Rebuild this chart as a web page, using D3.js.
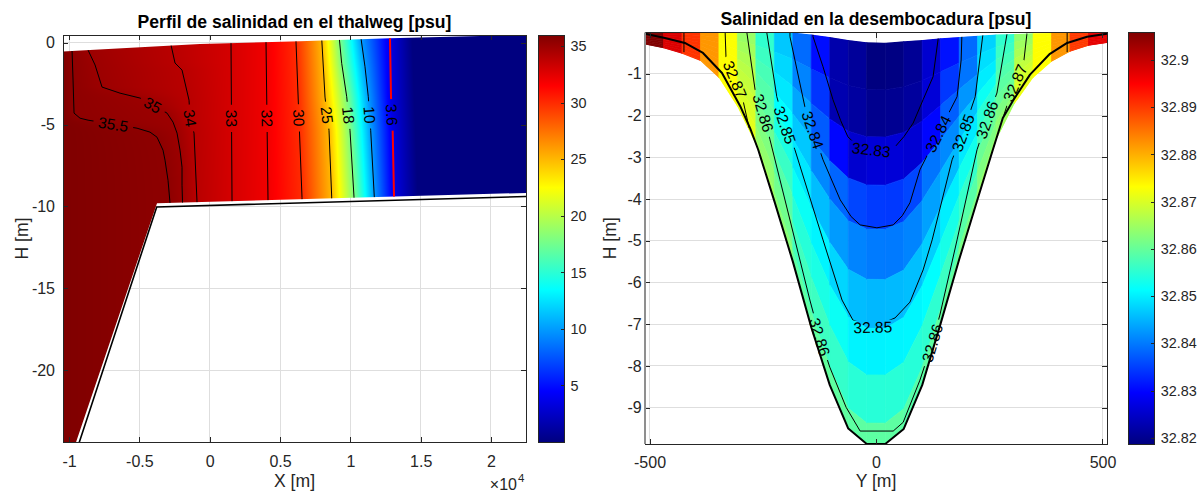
<!DOCTYPE html>
<html>
<head>
<meta charset="utf-8">
<title>Salinidad</title>
<script src="https://d3js.org/d3.v7.min.js"></script>
<style>
  html, body { margin: 0; padding: 0; background: #ffffff; }
  svg { display: block; }
</style>
</head>
<body>
<svg id="fig" width="1201" height="492"></svg>
<script>
// ================= Thalweg longitudinal profile =================
const thalwegXLimits = [-10430, 22490];
const thalwegHLimits = [-24.38, 0.47];
const thalwegXTicks = [-10000, -5000, 0, 5000, 10000, 15000, 20000];
const thalwegXTickLabels = ['-1', '-0.5', '0', '0.5', '1', '1.5', '2'];
const thalwegHTicks = [0, -5, -10, -15, -20];
const thalwegCbarTicks = [5, 10, 15, 20, 25, 30, 35];

// free surface and lower edge of the computed water column [X, H]
const thalwegSurface = [[-10430, -0.53], [-8508, -0.45], [-687, -0.08], [6420, 0.09], [12820, 0.27], [19218, 0.41], [22490, 0.47]];
const thalwegWaterBottom = [[-9746, -25.0], [-3745, -9.80], [22490, -9.17]];
// channel bed
const thalwegBed = [[-9504, -25.0], [-3766, -10.03], [22490, -9.39]];

// isohalines (psu), first and last are the saturated ends of the colour scale
const thalwegLevels = [36, 35.5, 35, 34, 33, 32, 30, 25, 18, 10, 3.6, 0];
const thalwegIsolines = [
  [[-10430, 0.6], [-10430, -25]],
  [[-9787, 0.6], [-9787, -0.45], [-9716, -2.28], [-9645, -4.30], [-9218, -4.61], [-8649, -4.73], [-5166, -5.22], [-4242, -5.46], [-3745, -5.77], [-3319, -6.56], [-3177, -7.17], [-2963, -8.40], [-2821, -9.80]],
  [[-8649, 0.6], [-8649, -0.45], [-8151, -1.36], [-7654, -2.71], [-6374, -3.08], [-4952, -3.38], [-3033, -4.30], [-2606, -4.85], [-2322, -5.52], [-2109, -6.56], [-1967, -7.60], [-1967, -8.70], [-1931, -9.80]],
  [[-2749, 0.6], [-2749, -0.14], [-2465, -1.24], [-1967, -1.67], [-1470, -3.51], [-1399, -4.61], [-1114, -5.52], [-901, -9.74]],
  [[1516, 0.6], [1516, -0.02], [1588, -9.62]],
  [[4005, 0.6], [4005, -0.02], [4147, -9.62]],
  [[6137, 0.6], [6137, 0.04], [6564, -9.45]],
  [[7964, 0.6], [7964, 0.27], [8199, -3.32], [8483, -5.35], [8675, -9.42]],
  [[9215, 0.6], [9215, 0.27], [9386, -1.26], [9742, -3.30], [9976, -5.35], [10261, -9.42]],
  [[10758, 0.6], [10758, 0.27], [11043, -1.47], [11277, -3.30], [11448, -5.35], [11704, -9.42]],
  [[12820, 0.6], [12820, 0.27], [12891, -3.30], [13012, -5.44], [13104, -9.31]],
  [[14384, 0.6], [14810, -9.5]]
];
// label anchor for each drawn isohaline (levels 35.5 ... 3.6)
const thalwegLabelAt = [[-6872, -5.03], [-4029, -3.81], [-1399, -4.61], [1550, -4.61], [4075, -4.61], [6350, -4.60], [8321, -4.42], [9857, -4.42], [11357, -4.42], [12950, -4.42]];
const thalwegFrontLevel = 3.6;

// ================= River mouth cross-section =================
const mouthYLimits = [-510, 510];
const mouthHLimits = [-9.87, -0.01];
const mouthYTicks = [-500, 0, 500];
const mouthHTicks = [-1, -2, -3, -4, -5, -6, -7, -8, -9];
const mouthCbarTicks = [32.82, 32.83, 32.84, 32.85, 32.86, 32.87, 32.88, 32.89, 32.9];

const mouthY = [-510, -469.2, -428.4, -387.6, -346.8, -306, -265.2, -224.4, -183.6, -142.8, -102, -61.2, -20.4,
                20.4, 61.2, 102, 142.8, 183.6, 224.4, 265.2, 306, 346.8, 387.6, 428.4, 469.2, 510];
const mouthSurface = [0, 0, 0, 0, 0, 0, 0, 0, -0.01, -0.06, -0.12, -0.19, -0.245,
                      -0.255, -0.22, -0.19, -0.15, -0.12, -0.09, -0.06, -0.045, -0.03, -0.02, -0.01, 0, 0];
const mouthBottom = [-0.30, -0.39, -0.52, -0.69, -1.10, -1.79, -2.70, -4.05, -5.50, -7.08, -8.46, -9.50, -9.87,
                     -9.87, -9.51, -8.46, -6.98, -5.45, -4.00, -2.59, -1.72, -1.10, -0.71, -0.47, -0.33, -0.26];
const sigmaLevels = [0, 0.117, 0.235, 0.355, 0.465, 0.59, 0.712, 0.828, 0.948, 1];
// salinity at the mesh nodes, one column per station, surface to bottom
const mouthSalinity = [
  [32.9058, 32.9058, 32.9058, 32.9058, 32.9058, 32.9058, 32.9058, 32.9058, 32.9058, 32.9058],
  [32.8980, 32.8980, 32.8980, 32.8980, 32.8980, 32.8980, 32.8980, 32.8980, 32.8980, 32.8980],
  [32.8905, 32.8905, 32.8905, 32.8905, 32.8905, 32.8905, 32.8905, 32.8905, 32.8905, 32.8905],
  [32.8820, 32.8820, 32.8820, 32.8820, 32.8820, 32.8820, 32.8820, 32.8820, 32.8820, 32.8820],
  [32.8730, 32.8730, 32.8730, 32.8730, 32.8730, 32.8730, 32.8730, 32.8730, 32.8730, 32.8730],
  [32.8644, 32.8653, 32.8662, 32.8672, 32.8680, 32.8690, 32.8699, 32.8708, 32.8716, 32.8720],
  [32.8555, 32.8565, 32.8575, 32.8585, 32.8594, 32.8607, 32.8623, 32.8638, 32.8653, 32.8660],
  [32.8467, 32.8480, 32.8494, 32.8514, 32.8536, 32.8562, 32.8587, 32.8610, 32.8632, 32.8640],
  [32.8387, 32.8409, 32.8438, 32.8467, 32.8494, 32.8521, 32.8546, 32.8569, 32.8594, 32.8605],
  [32.8307, 32.8340, 32.8374, 32.8412, 32.8457, 32.8505, 32.8536, 32.8566, 32.8597, 32.8615],
  [32.8225, 32.8228, 32.8300, 32.8382, 32.8428, 32.8479, 32.8522, 32.8558, 32.8595, 32.8615],
  [32.8210, 32.8215, 32.8255, 32.8355, 32.8409, 32.8457, 32.8504, 32.8548, 32.8593, 32.8620],
  [32.8187, 32.8200, 32.8262, 32.8345, 32.8401, 32.8453, 32.8503, 32.8547, 32.8593, 32.8620],
  [32.8190, 32.8203, 32.8262, 32.8344, 32.8400, 32.8455, 32.8505, 32.8548, 32.8593, 32.8620],
  [32.8205, 32.8212, 32.8258, 32.8356, 32.8409, 32.8459, 32.8507, 32.8546, 32.8587, 32.8612],
  [32.8255, 32.8262, 32.8300, 32.8396, 32.8433, 32.8473, 32.8514, 32.8553, 32.8594, 32.8615],
  [32.8310, 32.8343, 32.8377, 32.8414, 32.8455, 32.8500, 32.8533, 32.8565, 32.8597, 32.8615],
  [32.8387, 32.8396, 32.8424, 32.8462, 32.8496, 32.8529, 32.8559, 32.8588, 32.8618, 32.8630],
  [32.8475, 32.8486, 32.8498, 32.8523, 32.8549, 32.8578, 32.8604, 32.8622, 32.8642, 32.8650],
  [32.8555, 32.8564, 32.8573, 32.8583, 32.8592, 32.8602, 32.8620, 32.8636, 32.8653, 32.8660],
  [32.8639, 32.8649, 32.8659, 32.8669, 32.8678, 32.8689, 32.8699, 32.8708, 32.8716, 32.8720],
  [32.8731, 32.8731, 32.8731, 32.8731, 32.8731, 32.8731, 32.8731, 32.8731, 32.8731, 32.8731],
  [32.8820, 32.8820, 32.8820, 32.8820, 32.8820, 32.8820, 32.8820, 32.8820, 32.8820, 32.8820],
  [32.8900, 32.8900, 32.8900, 32.8900, 32.8900, 32.8900, 32.8900, 32.8900, 32.8900, 32.8900],
  [32.8970, 32.8970, 32.8970, 32.8970, 32.8970, 32.8970, 32.8970, 32.8970, 32.8970, 32.8970],
  [32.9050, 32.9050, 32.9050, 32.9050, 32.9050, 32.9050, 32.9050, 32.9050, 32.9050, 32.9050]
];
// bathymetry line across the mouth
const mouthBed = [[-510, -0.04], [-466, -0.14], [-422, -0.26], [-382, -0.50], [-340, -0.98], [-300, -1.77], [-278, -2.30], [-260, -2.82],
  [-224.4, -4.05], [-183.6, -5.50], [-142.8, -7.08], [-102, -8.46], [-61.2, -9.50], [-20.4, -9.87], [20.4, -9.87], [61.2, -9.51],
  [102, -8.46], [142.8, -6.98], [183.6, -5.45], [224.4, -4.00], [258, -2.82], [280, -2.06], [302, -1.65], [340, -1.02],
  [384, -0.52], [422, -0.26], [466, -0.11], [510, -0.04]];
// isohalines across the mouth
const mouthIsolineLevels = [32.83, 32.84, 32.85, 32.86, 32.87, 32.87, 32.89, 32.89];
const mouthIsolines = [
  [[-139, 0.05], [-139, -0.11], [-117, -0.83], [-95, -1.62], [-78, -2.12], [-62, -2.51], [-40, -2.74], [-13, -2.82], [20, -2.82], [42, -2.75], [62, -2.50], [82, -2.18], [104, -1.62], [126, -1.07], [137, -0.18], [138, 0.05]],
  [[-190, 0.05], [-190, -0.11], [-157, -1.79], [-117, -3.06], [-79, -4.02], [-55, -4.42], [-35, -4.62], [2, -4.69], [38, -4.62], [58, -4.40], [75, -4.09], [97, -3.30], [137, -2.44], [179, -1.55], [188, -0.67], [190, 0.05]],
  [[-241, 0.05], [-241, -0.02], [-219, -1.55], [-201, -2.23], [-179, -2.82], [-117, -4.98], [-75, -6.42], [-51, -6.90], [-7, -7.07], [42, -6.85], [75, -6.47], [104, -5.70], [124, -4.98], [168, -3.06], [192, -2.42], [219, -1.55], [236, -0.06], [236, 0.05]],
  [[-285, 0.05], [-285, -0.02], [-267, -1.38], [-249, -1.94], [-234, -2.58], [-212, -3.54], [-179, -4.98], [-146, -6.42], [-124, -7.31], [-102, -8.03], [-66, -8.99], [-35, -9.56], [38, -9.56], [60, -9.35], [97, -8.34], [124, -7.45], [141, -6.78], [179, -4.98], [223, -2.82], [245, -2.10], [267, -1.46], [289, -0.06], [289, 0.05]],
  [[-333, 0.05], [-333, -0.02], [-331, -0.66], [-311, -1.14], [-294, -1.62], [-280, -2.30]],
  [[333, 0.05], [333, -0.06], [325, -0.83], [307, -1.22], [291, -1.70], [282, -2.00]],
  [[-424, 0.05], [-424, -0.48]],
  [[422, 0.05], [422, -0.48]]
];
// [isoline index, Y, H] of each inline label
const mouthLabelAt = [
  [4, -311, -1.14], [3, -249, -1.94], [2, -201, -2.23], [1, -141, -2.35], [0, -11, -2.80],
  [1, 137, -2.44], [2, 192, -2.42], [3, 245, -2.10], [5, 307, -1.22],
  [3, -124, -7.31], [2, -7, -7.07], [3, 124, -7.45]
];

// ================= drawing =================
const FONT = '"Liberation Sans", Arial, Helvetica, sans-serif';
const INK = '#262626';
const GRID = '#dedede';
const svg = d3.select('#fig').attr('font-family', FONT);
const defs = svg.append('defs');

function jet(t) {
  t = Math.max(0, Math.min(1, t));
  const c = v => Math.round(255 * Math.max(0, Math.min(1, v)));
  return [c(1.5 - Math.abs(4 * t - 3)), c(1.5 - Math.abs(4 * t - 2)), c(1.5 - Math.abs(4 * t - 1))];
}
const rgb = a => `rgb(${a[0]},${a[1]},${a[2]})`;

const boxL = { l: 63, r: 526, t: 35, b: 442 };
const boxR = { l: 645, r: 1107, t: 32.5, b: 444 };
const xL = d3.scaleLinear().domain(thalwegXLimits).range([boxL.l, boxL.r]);
const yL = d3.scaleLinear().domain(thalwegHLimits).range([boxL.b, boxL.t]);
const xR = d3.scaleLinear().domain(mouthYLimits).range([boxR.l, boxR.r]);
const yR = d3.scaleLinear().domain(mouthHLimits).range([boxR.b, boxR.t]);

function addClipRect(id, box) {
  defs.append('clipPath').attr('id', id).append('rect')
    .attr('x', box.l).attr('y', box.t).attr('width', box.r - box.l).attr('height', box.b - box.t);
}
addClipRect('axL', boxL);
addClipRect('axR', boxR);

function addMask(id) {
  const m = defs.append('mask').attr('id', id).attr('maskUnits', 'userSpaceOnUse')
    .attr('x', 0).attr('y', 0).attr('width', 1201).attr('height', 492);
  m.append('rect').attr('x', 0).attr('y', 0).attr('width', 1201).attr('height', 492).attr('fill', '#fff');
  return m;
}

function drawGrid(box, x, y, xt, yt) {
  const g = svg.append('g').attr('stroke', GRID).attr('stroke-width', 1).attr('shape-rendering', 'crispEdges');
  g.selectAll('.gx').data(xt).join('line').attr('x1', d => x(d)).attr('x2', d => x(d)).attr('y1', box.t).attr('y2', box.b);
  g.selectAll('.gy').data(yt).join('line').attr('x1', box.l).attr('x2', box.r).attr('y1', d => y(d)).attr('y2', d => y(d));
}

function styleAxis(sel, fs) {
  sel.attr('font-size', fs).attr('font-family', FONT).attr('color', INK);
  sel.select('.domain').remove();
  sel.selectAll('line').attr('shape-rendering', 'crispEdges');
  return sel;
}

function drawAxes(box, x, y, xt, xfmt, yt, yfmt, yPad, xLabelDy, leftEdgeColor) {
  const gb = svg.append('g').attr('transform', `translate(0,${box.b})`)
    .call(d3.axisBottom(x).tickValues(xt).tickFormat(xfmt).tickSizeInner(-5).tickSizeOuter(0).tickPadding(0));
  styleAxis(gb, 16).selectAll('text').attr('y', xLabelDy).attr('dy', null);
  const gt = svg.append('g').attr('transform', `translate(0,${box.t})`)
    .call(d3.axisTop(x).tickValues(xt).tickFormat('').tickSizeInner(-5).tickSizeOuter(0));
  styleAxis(gt, 16);
  const gl = svg.append('g').attr('transform', `translate(${box.l},0)`)
    .call(d3.axisLeft(y).tickValues(yt).tickFormat(yfmt).tickSizeInner(-5).tickSizeOuter(0).tickPadding(yPad));
  styleAxis(gl, 16);
  const gr = svg.append('g').attr('transform', `translate(${box.r},0)`)
    .call(d3.axisRight(y).tickValues(yt).tickFormat('').tickSizeInner(-5).tickSizeOuter(0));
  styleAxis(gr, 16);
  const frame = svg.append('g').attr('fill', 'none').attr('stroke-width', 1);
  frame.append('path').attr('stroke', INK).attr('shape-rendering', 'crispEdges')
    .attr('d', `M${box.l},${box.t}H${box.r}V${box.b}H${box.l}`);
  frame.append('line').attr('x1', box.l).attr('x2', box.l).attr('y1', box.t).attr('y2', box.b)
    .attr('stroke', leftEdgeColor).attr('stroke-width', leftEdgeColor === INK ? 1 : 2)
    .attr('shape-rendering', leftEdgeColor === INK ? 'crispEdges' : null);
}

function jetGradient(id) {
  const g = defs.append('linearGradient').attr('id', id).attr('x1', 0).attr('y1', 1).attr('x2', 0).attr('y2', 0);
  [0, 0.125, 0.375, 0.625, 0.875, 1].forEach(o => g.append('stop').attr('offset', o).attr('stop-color', rgb(jet(o))));
}

function drawColorbar(id, x0, x1, top, bottom, domain, ticks, fmt) {
  jetGradient(id);
  svg.append('rect').attr('x', x0).attr('y', top).attr('width', x1 - x0).attr('height', bottom - top)
    .attr('fill', `url(#${id})`);
  const s = d3.scaleLinear().domain(domain).range([bottom, top]);
  const g = svg.append('g').attr('transform', `translate(${x1},0)`)
    .call(d3.axisRight(s).tickValues(ticks).tickFormat(fmt).tickSizeInner(-3).tickSizeOuter(0).tickPadding(6.5));
  styleAxis(g, 14.4);
  svg.append('rect').attr('x', x0).attr('y', top).attr('width', x1 - x0).attr('height', bottom - top)
    .attr('fill', 'none').attr('stroke', INK).attr('stroke-width', 1).attr('shape-rendering', 'crispEdges');
}

function placeLabel(pathNode, px, py, text, layer, mask, fs, pad) {
  const total = pathNode.getTotalLength();
  let best = 0, bestD = Infinity;
  for (let s = 0; s <= total; s += 0.5) {
    const p = pathNode.getPointAtLength(s);
    const d = (p.x - px) * (p.x - px) + (p.y - py) * (p.y - py);
    if (d < bestD) { bestD = d; best = s; }
  }
  const c = pathNode.getPointAtLength(best);
  const a = pathNode.getPointAtLength(Math.max(0, best - 12));
  const b = pathNode.getPointAtLength(Math.min(total, best + 12));
  let ang = Math.atan2(b.y - a.y, b.x - a.x) * 180 / Math.PI;
  if (ang > 90) ang -= 180;
  if (ang < -90) ang += 180;
  const tr = `translate(${c.x},${c.y}) rotate(${ang})`;
  const t = layer.append('text').attr('transform', tr).attr('text-anchor', 'middle').attr('dy', '0.36em')
    .attr('font-size', fs).attr('fill', '#000').text(text);
  const w = t.node().getComputedTextLength();
  mask.append('rect').attr('transform', tr).attr('x', -w / 2 - pad).attr('y', -fs * 0.45)
    .attr('width', w + 2 * pad).attr('height', fs * 0.9).attr('fill', '#000');
}

// ---------- left panel: thalweg profile ----------
drawGrid(boxL, xL, yL, thalwegXTicks, thalwegHTicks);

const waterL = thalwegSurface.concat(thalwegWaterBottom.slice().reverse(), [[thalwegXLimits[0], thalwegWaterBottom[0][1]]]);
const lineL = d3.line().x(d => xL(d[0])).y(d => yL(d[1]));
defs.append('clipPath').attr('id', 'waterL').append('path').attr('d', lineL(waterL) + 'Z');

function crossAt(line, h) {
  if (h >= line[0][1]) return line[0][0];
  for (let i = 1; i < line.length; i++) {
    const a = line[i - 1], b = line[i];
    if (h >= b[1]) return a[0] + (a[1] - h) / (a[1] - b[1]) * (b[0] - a[0]);
  }
  return line[line.length - 1][0];
}
function fieldAt(xv, xs) {
  const L = thalwegLevels;
  if (xv <= xs[0]) return L[0];
  for (let i = 1; i < xs.length; i++) {
    if (xv < xs[i]) return L[i - 1] + (xv - xs[i - 1]) / (xs[i] - xs[i - 1]) * (L[i] - L[i - 1]);
  }
  return L[L.length - 1];
}

const [vMinL, vMaxL] = d3.extent(thalwegLevels);
{
  const cw = boxL.r - boxL.l, ch = boxL.b - boxL.t;
  const canvas = document.createElement('canvas');
  canvas.width = cw; canvas.height = ch;
  const ctx = canvas.getContext('2d');
  const img = ctx.createImageData(cw, ch);
  for (let j = 0; j < ch; j++) {
    const h = yL.invert(boxL.t + j + 0.5);
    const xs = thalwegIsolines.map(line => crossAt(line, h));
    for (let i = 0; i < cw; i++) {
      const v = fieldAt(xL.invert(boxL.l + i + 0.5), xs);
      const c = jet((v - vMinL) / (vMaxL - vMinL));
      const o = 4 * (j * cw + i);
      img.data[o] = c[0]; img.data[o + 1] = c[1]; img.data[o + 2] = c[2]; img.data[o + 3] = 255;
    }
  }
  ctx.putImageData(img, 0, 0);
  svg.append('g').attr('clip-path', 'url(#waterL)').append('image')
    .attr('href', canvas.toDataURL()).attr('x', boxL.l).attr('y', boxL.t)
    .attr('width', cw).attr('height', ch).attr('preserveAspectRatio', 'none');
}

const maskL = addMask('gapL');
const isoL = svg.append('g').attr('clip-path', 'url(#waterL)').append('g').attr('mask', 'url(#gapL)').attr('fill', 'none');
const drawnL = thalwegIsolines.slice(1, -1).map((line, i) => {
  const lev = thalwegLevels[i + 1];
  const front = lev === thalwegFrontLevel;
  const ext = [line[0]].concat(line, [[line[line.length - 1][0], line[line.length - 1][1] - 1.5]]);
  return isoL.append('path').attr('d', lineL(ext))
    .attr('stroke', front ? '#ff0000' : '#000').attr('stroke-width', front ? 2 : 1).node();
});
const labL = svg.append('g');
thalwegLabelAt.forEach((p, i) => {
  placeLabel(drawnL[i], xL(p[0]), yL(p[1]), String(thalwegLevels[i + 1]), labL, maskL, 15.5, 5);
});
svg.append('g').attr('clip-path', 'url(#axL)').append('path').attr('d', lineL(thalwegBed))
  .attr('fill', 'none').attr('stroke', '#000').attr('stroke-width', 1.6);

drawAxes(boxL, xL, yL, thalwegXTicks, (d, i) => thalwegXTickLabels[i], thalwegHTicks, d => String(d), 8, 24.5, INK);

// ---------- right panel: mouth cross-section ----------
drawGrid(boxR, xR, yR, mouthYTicks, mouthHTicks);
const lineR = d3.line().x(d => xR(d[0])).y(d => yR(d[1]));
const waterR = mouthY.map((y, j) => [y, mouthSurface[j]]).concat(mouthY.map((y, j) => [y, mouthBottom[j]]).reverse());
defs.append('clipPath').attr('id', 'waterR').append('path').attr('d', lineR(waterR) + 'Z');

const nodeH = (j, k) => mouthSurface[j] + sigmaLevels[k] * (mouthBottom[j] - mouthSurface[j]);
const cells = [];
for (let j = 0; j < mouthY.length - 1; j++)
  for (let k = 0; k < sigmaLevels.length - 1; k++) cells.push({ j, k });
const [vMinR, vMaxR] = d3.extent(mouthSalinity.flat());
const cellColor = c => rgb(jet((mouthSalinity[c.j][c.k] - vMinR) / (vMaxR - vMinR)));
svg.append('g').attr('clip-path', 'url(#waterR)').selectAll('path').data(cells).join('path')
  .attr('d', c => lineR([[mouthY[c.j], nodeH(c.j, c.k)], [mouthY[c.j + 1], nodeH(c.j + 1, c.k)],
                        [mouthY[c.j + 1], nodeH(c.j + 1, c.k + 1)], [mouthY[c.j], nodeH(c.j, c.k + 1)]]) + 'Z')
  .attr('fill', cellColor).attr('stroke', cellColor).attr('stroke-width', 0.7);

const maskR = addMask('gapR');
const isoR = svg.append('g').attr('clip-path', 'url(#waterR)').append('g').attr('mask', 'url(#gapR)')
  .attr('fill', 'none').attr('stroke', '#000').attr('stroke-width', 1);
const drawnR = mouthIsolines.map(line => isoR.append('path').attr('d', lineR(line)).node());
const labR = svg.append('g');
mouthLabelAt.forEach(([idx, y, h]) => {
  placeLabel(drawnR[idx], xR(y), yR(h), String(mouthIsolineLevels[idx]), labR, maskR, 15.5, 5);
});
svg.append('g').attr('clip-path', 'url(#axR)').append('path').attr('d', lineR(mouthBed))
  .attr('fill', 'none').attr('stroke', '#000').attr('stroke-width', 2).attr('stroke-linejoin', 'round');

drawAxes(boxR, xR, yR, mouthYTicks, d => String(d), mouthHTicks, d => String(d), 3.3, 23.5, '#8f8f8f');

// ---------- colour bars ----------
drawColorbar('jetL', 538.3, 564, boxL.t, boxL.b, [vMinL, vMaxL], thalwegCbarTicks, d => String(d));
drawColorbar('jetR', 1128.3, 1154.3, boxR.t, boxR.b, [vMinR, vMaxR], mouthCbarTicks, d => String(+d.toFixed(2)));

// ---------- titles and axis labels ----------
const txt = svg.append('g').attr('fill', '#000');
txt.append('text').attr('x', (boxL.l + boxL.r) / 2).attr('y', 27.5).attr('text-anchor', 'middle')
  .attr('font-size', 17.6).attr('font-weight', 'bold').text('Perfil de salinidad en el thalweg [psu]');
txt.append('text').attr('x', (boxR.l + boxR.r) / 2).attr('y', 25).attr('text-anchor', 'middle')
  .attr('font-size', 17.6).attr('font-weight', 'bold').text('Salinidad en la desembocadura [psu]');
const lab = svg.append('g').attr('fill', INK).attr('font-size', 17.6);
lab.append('text').attr('x', (boxL.l + boxL.r) / 2).attr('y', 487).attr('text-anchor', 'middle').text('X [m]');
lab.append('text').attr('x', (boxR.l + boxR.r) / 2).attr('y', 487.2).attr('text-anchor', 'middle').text('Y [m]');
lab.append('text').attr('transform', `translate(27.5,${(boxL.t + boxL.b) / 2}) rotate(-90)`).attr('text-anchor', 'middle').text('H [m]');
lab.append('text').attr('transform', `translate(615.5,${(boxR.t + boxR.b) / 2}) rotate(-90)`).attr('text-anchor', 'middle').text('H [m]');
lab.append('text').attr('x', 517).attr('y', 490).attr('text-anchor', 'end').attr('font-size', 16).text('\u00d710');
lab.append('text').attr('x', 518).attr('y', 481.5).attr('font-size', 11.5).text('4');
</script>
</body>
</html>
